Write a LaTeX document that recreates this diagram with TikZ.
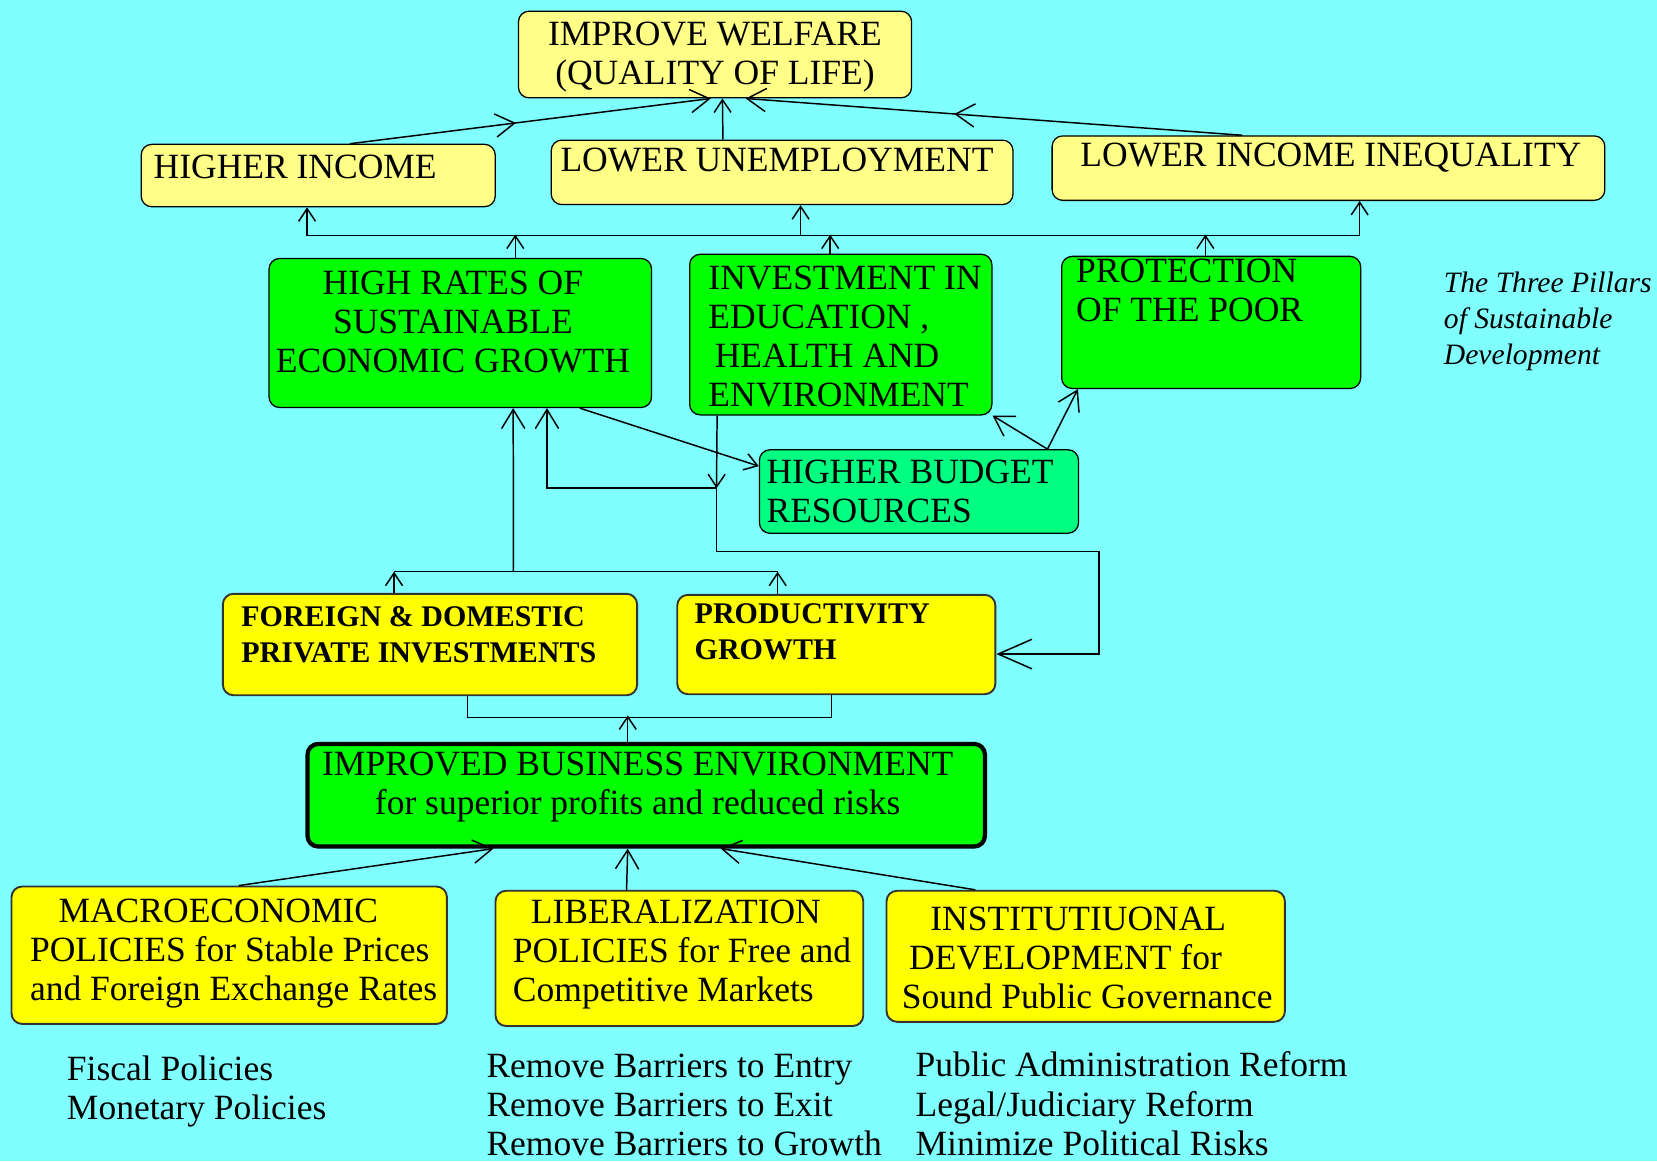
\documentclass[tikz,border=0pt]{standalone}
\usepackage{fontspec}
\setmainfont{Liberation Serif}
\usetikzlibrary{arrows.meta,decorations.markings}
\definecolor{skybg}{RGB}{128,255,255}
\definecolor{paleyellow}{RGB}{255,255,136}
\definecolor{brightyellow}{RGB}{255,255,0}
\definecolor{pillargreen}{RGB}{0,255,0}
\definecolor{budgetgreen}{RGB}{0,255,128}

\tikzset{
  box/.style={draw, rounded corners=5pt, anchor=north west, line width=0.6pt, inner sep=0pt},
  policybox/.style={box, fill=brightyellow, draw=black!80, line width=0.9pt},
  txt/.style={inner sep=0pt, align=left, font=\fontsize{16.8}{18.5}\selectfont},
  boldtxt/.style={txt, font=\fontsize{14.2}{17}\selectfont\bfseries},
  arr/.style={-{Straight Barb[length=6pt,width=8pt]}, line width=0.7pt},
  bigarr/.style={-{Straight Barb[length=9pt,width=11pt]}, line width=0.7pt},
  midarr/.style={postaction={decorate}, decoration={markings,
      mark=at position #1 with {\arrow{Straight Barb[length=9pt,width=11pt]}}}},
}

\begin{document}
\begin{tikzpicture}[x=0.5pt, y=-0.5pt]
        \fill[skybg] (0,0) rectangle (1568,1099);
        \useasboundingbox (0,0) rectangle (1568,1099);

        % boxes
        \node (wel) [box, fill=paleyellow, minimum width=186pt, minimum height=41pt] at (490,10) {};
        \node (inc) [box, fill=paleyellow, minimum width=167.5pt, minimum height=29.5pt] at (133,136) {};
        \node (unemp) [box, fill=paleyellow, minimum width=218.5pt, minimum height=30.5pt] at (521,132) {};
        \node (ineq) [box, fill=paleyellow, minimum width=261.5pt, minimum height=30.5pt] at (995,128) {};
        \node (grow) [box, fill=pillargreen, minimum width=181pt, minimum height=70.5pt] at (254,244) {};
        \node (invest) [box, fill=pillargreen, minimum width=143pt, minimum height=76pt] at (652,240) {};
        \node (prot) [box, fill=pillargreen, minimum width=141.5pt, minimum height=62.5pt] at (1004,242) {};
        \node (budget) [box, fill=budgetgreen, minimum width=151pt, minimum height=39.5pt] at (718,425) {};
        \node (foreign) [policybox, minimum width=196pt, minimum height=48pt] at (210,561) {};
        \node (prod) [policybox, minimum width=150.5pt, minimum height=47pt] at (640,562) {};
        \node (impr) [box, fill=pillargreen, line width=2pt, minimum width=320.5pt, minimum height=48.5pt] at (289,702) {};
        \node (macro) [policybox, minimum width=206pt, minimum height=65pt] at (10,838) {};
        \node (liberal) [policybox, minimum width=174pt, minimum height=64pt] at (468,842) {};
        \node (instit) [policybox, minimum width=188.5pt, minimum height=62pt] at (838,842) {};

        % texts
        \node (welT) [txt, align=center, anchor=north] at ([yshift=-5pt]wel.north) {IMPROVE WELFARE\\(QUALITY OF LIFE)};
        \node (incT) [txt, anchor=north west] at ([shift={(6pt,-5pt)}]inc.north west) {HIGHER INCOME};
        \node (unempT) [txt, anchor=north west] at ([shift={(4.5pt,-4pt)}]unemp.north west) {LOWER UNEMPLOYMENT};
        \node (ineqT) [txt, anchor=north west] at ([shift={(13.5pt,-3.5pt)}]ineq.north west) {LOWER INCOME INEQUALITY};
        \node (growT) [txt, align=center, anchor=north] at ([shift={(-3.5pt,-6pt)}]grow.north) {HIGH RATES OF\\SUSTAINABLE\\ECONOMIC GROWTH};
        \node (investT) [txt, anchor=north west] at ([shift={(9pt,-5.5pt)}]invest.north west) {INVESTMENT IN\\EDUCATION ,\\\hspace*{3pt}HEALTH AND\\ENVIRONMENT};
        \node (protT) [txt, anchor=north west] at ([shift={(7pt,-1.5pt)}]prot.north west) {PROTECTION\\OF THE POOR};
        \node (budgetT) [txt, anchor=north west] at ([shift={(3.5pt,-5pt)}]budget.north west) {HIGHER BUDGET\\RESOURCES};
        \node (foreignT) [boldtxt, anchor=north west] at ([shift={(9pt,-6.3pt)}]foreign.north west) {FOREIGN \& DOMESTIC\\PRIVATE INVESTMENTS};
        \node (prodT) [boldtxt, anchor=north west] at ([shift={(8.5pt,-4.3pt)}]prod.north west) {PRODUCTIVITY\\GROWTH};
        \node (imprT) [txt, align=center, anchor=north] at ([shift={(-4pt,-4.5pt)}]impr.north) {IMPROVED BUSINESS ENVIRONMENT\\for superior profits and reduced risks};
        \node (macroT) [txt, anchor=north west] at ([shift={(9pt,-6pt)}]macro.north west) {\hspace*{13.5pt}MACROECONOMIC\\POLICIES for Stable Prices\\and Foreign Exchange Rates};
        \node (liberalT) [txt, anchor=north west] at ([shift={(8.5pt,-4.5pt)}]liberal.north west) {\hspace*{8.5pt}LIBERALIZATION\\POLICIES for Free and\\Competitive Markets};
        \node (institT) [txt, anchor=north west] at ([shift={(7.5pt,-8pt)}]instit.north west) {\hspace*{13.5pt}INSTITUTIUONAL\\\hspace*{3.5pt}DEVELOPMENT for\\Sound Public Governance};
        \node (pillars) [txt, font=\fontsize{14}{17}\selectfont\itshape, anchor=north west] at (1366,257) {The Three Pillars\\of Sustainable\\Development};
        \node (fiscal) [txt, anchor=north west] at (63,999) {Fiscal Policies\\Monetary Policies};
        \node (barriers) [txt, anchor=north west] at (460,997) {Remove Barriers to Entry\\Remove Barriers to Exit\\Remove Barriers to Growth};
        \node (reforms) [txt, anchor=north west] at (866,995) {Public Administration Reform\\Legal/Judiciary Reform\\Minimize Political Risks};

        % welfare
        \draw[bigarr, midarr=.46] ([xshift=15pt]inc.north) -- ([xshift=-2pt]wel.south);
        \draw[arr] ([xshift=-28pt]unemp.north) -- ([xshift=3.5pt]wel.south);
        \draw[bigarr, midarr=.58] ([xshift=-40.75pt]ineq.north) -- ([xshift=14.5pt]wel.south);

        % three pillars
        \draw ([shift={(-5.25pt,-13.5pt)}]inc.south) -- ([shift={(14.75pt,-16.5pt)}]ineq.south);
        \draw[arr] ([shift={(-5.25pt,-13.5pt)}]inc.south) -- ([xshift=-5.25pt]inc.south);
        \draw[arr] ([shift={(8.75pt,-14.5pt)}]unemp.south) -- ([xshift=8.75pt]unemp.south);
        \draw[arr] ([shift={(14.75pt,-16.5pt)}]ineq.south) -- ([xshift=14.75pt]ineq.south);
        \draw[arr] ([xshift=26pt]grow.north) -- ([shift={(26pt,11pt)}]grow.north);
        \draw[arr] ([xshift=-5pt]invest.north) -- ([shift={(-5pt,9pt)}]invest.north);
        \draw[arr] ([xshift=-2.75pt]prot.north) -- ([shift={(-2.75pt,10pt)}]prot.north);

        % budget
        \coordinate (split) at (678,462);
        \coordinate (loop) at (1040,522);
        \draw[arr] ([xshift=-58.5pt]invest.south) -- (split);
        \draw[bigarr] (split) -| ([xshift=41pt]grow.south);
        \draw[-{Straight Barb[length=16pt,width=14pt]}, line width=0.7pt] (split) |- (loop) |- ([yshift=-4.5pt]prod.east);
        \draw[arr] ([xshift=56.5pt]grow.south) -- ([yshift=12pt]budget.west);
        \draw[bigarr] ([xshift=-15pt]budget.north east) -- (invest.south east);
        \draw[bigarr] ([xshift=-15pt]budget.north east) -- ([xshift=8pt]prot.south west);

        % growth sources
        \draw ([shift={(-17pt,10pt)}]foreign.north) -- ([shift={(-27.75pt,10.5pt)}]prod.north);
        \draw[arr] ([xshift=-17pt]foreign.north) -- ([shift={(-17pt,10pt)}]foreign.north);
        \draw[arr] ([xshift=-27.75pt]prod.north) -- ([shift={(-27.75pt,10.5pt)}]prod.north);
        \draw[bigarr] ([shift={(39.5pt,10pt)}]foreign.north) -- ([xshift=25pt]grow.south);

        % business environment
        \draw ([xshift=17.5pt]foreign.south) -- ([shift={(17.5pt,-10pt)}]foreign.south) -- ([shift={(-2.25pt,-10.5pt)}]prod.south) -- ([xshift=-2.25pt]prod.south);
        \draw[arr] ([xshift=-8.75pt]impr.north) -- ([shift={(-8.75pt,12.5pt)}]impr.north);
        \draw[bigarr] ([xshift=4.5pt]macro.north) -- ([xshift=-72.25pt]impr.south);
        \draw[bigarr] ([xshift=-25pt]liberal.north) -- ([xshift=-8.75pt]impr.south);
        \draw[bigarr] ([xshift=-52.25pt]instit.north) -- ([xshift=35.25pt]impr.south);
\end{tikzpicture}
\end{document}
